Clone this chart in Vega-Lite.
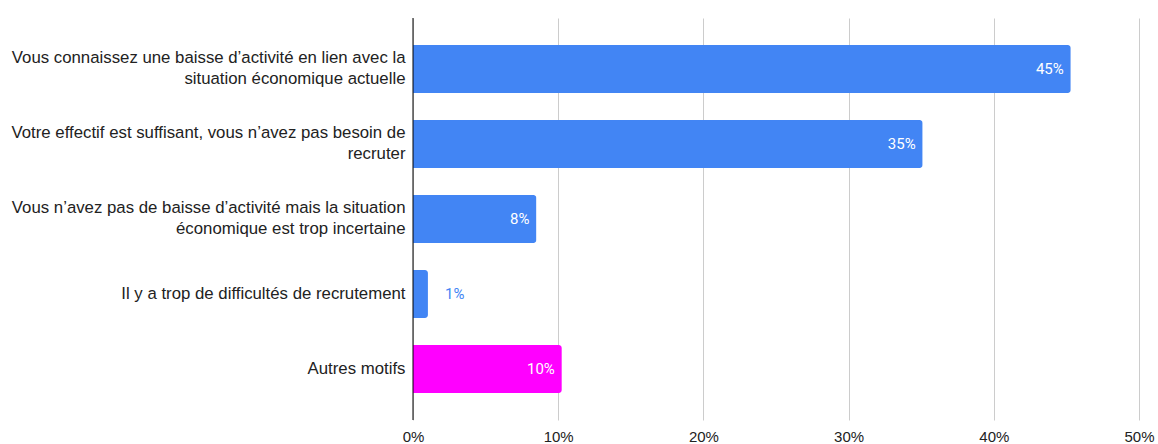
{
  "$schema": "https://vega.github.io/schema/vega-lite/v6.json",
  "autosize": {"type": "none"},
  "padding": {"left": 413, "top": 18, "right": 19, "bottom": 24},
  "width": 726,
  "height": 402,
  "background": "white",
  "config": {
    "view": {"stroke": null},
    "font": "Roboto",
    "axis": {"labelFont": "Liberation Sans", "labelFontSize": 15, "labelColor": "#222222"}
  },
  "data": {
    "values": [
      {"motif": "Vous connaissez une baisse d’activité en lien avec la|situation économique actuelle", "value": 0.453, "label": "45%", "cat": "main"},
      {"motif": "Votre effectif est suffisant, vous n’avez pas besoin de|recruter", "value": 0.351, "label": "35%", "cat": "main"},
      {"motif": "Vous n’avez pas de baisse d’activité mais la situation|économique est trop incertaine", "value": 0.085, "label": "8%", "cat": "main"},
      {"motif": "Il y a trop de difficultés de recrutement", "value": 0.0103, "label": "1%", "cat": "main"},
      {"motif": "Autres motifs", "value": 0.1025, "label": "10%", "cat": "other"}
    ]
  },
  "layer": [
    {
      "mark": {"type": "bar", "cornerRadiusEnd": 3},
      "encoding": {
        "y": {
          "field": "motif", "type": "nominal", "sort": null,
          "scale": {"paddingInner": 0.36, "paddingOuter": 0.36},
          "axis": {
            "title": null, "ticks": false, "domain": false, "labelPadding": 8, "labelLimit": 420,
            "labelFontSize": 16.8, "labelLineHeight": 21,
            "labelOffset": {"condition": {"test": "indexof(datum.label, '|') >= 0", "value": -11}, "value": 0},
            "labelExpr": "split(datum.label, '|')"
          }
        },
        "x": {
          "field": "value", "type": "quantitative",
          "scale": {"domain": [0, 0.5], "nice": false},
          "axis": {"title": null, "format": ".0%", "values": [0, 0.1, 0.2, 0.3, 0.4, 0.5], "ticks": false, "domain": false, "grid": true, "gridColor": "#cccccc", "labelPadding": 9, "labelFontSize": 15, "labelFlush": false, "labelOverlap": false}
        },
        "color": {"field": "cat", "type": "nominal", "scale": {"domain": ["main", "other"], "range": ["#4285F4", "#FF00FF"]}, "legend": null}
      }
    },
    {
      "transform": [{"filter": "datum.value >= 0.05"}],
      "mark": {"type": "text", "align": "right", "dx": -7, "color": "white", "fontSize": 15, "font": "Roboto", "baseline": "middle"},
      "encoding": {
        "y": {"field": "motif", "type": "nominal", "sort": null},
        "x": {"field": "value", "type": "quantitative"},
        "text": {"field": "label"}
      }
    },
    {
      "transform": [{"filter": "datum.value < 0.05"}],
      "mark": {"type": "text", "align": "left", "dx": 17, "color": "#4285F4", "fontSize": 15, "font": "Roboto", "baseline": "middle"},
      "encoding": {
        "y": {"field": "motif", "type": "nominal", "sort": null},
        "x": {"field": "value", "type": "quantitative"},
        "text": {"field": "label"}
      }
    },
    {
      "data": {"values": [{"v": 0}]},
      "mark": {"type": "rule", "color": "#000000", "strokeWidth": 1},
      "encoding": {"x": {"field": "v", "type": "quantitative"}}
    }
  ]
}
